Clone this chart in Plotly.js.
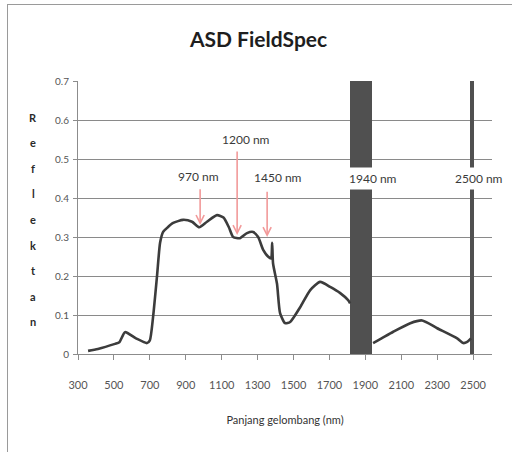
<!DOCTYPE html>
<html>
<head>
<meta charset="utf-8">
<script src="https://cdn.plot.ly/plotly-3.0.1.min.js"></script>
<style>
  html, body { margin: 0; padding: 0; background: #fff; }
  #wrap { position: relative; width: 512px; height: 452px; overflow: hidden; }
  #chart { position: absolute; left: 0; top: 0; width: 512px; height: 452px; }
  #frame { position: absolute; left: 7px; top: 4px; width: 520px; height: 460px;
           border-left: 1px solid #9a9a9a; border-top: 1px solid #9a9a9a; pointer-events: none; }
</style>
</head>
<body>
<div id="wrap"><div id="chart"></div><div id="frame"></div></div>
<script>
// Spectrum (wavelength nm, reflectance)
const wavelength = [356, 411, 506, 530, 562, 623, 684, 700, 718, 740, 757, 774, 800, 830, 885, 935, 975, 1018, 1074, 1110, 1140, 1164, 1202, 1241, 1275, 1303, 1331, 1358, 1375, 1381, 1386, 1408, 1425, 1453, 1481, 1537, 1593, 1648, 1704, 1760, 1804, 1815,
                    null,
                    1943, 1990, 2055, 2150, 2216, 2300, 2411, 2445, 2467, 2488];
const reflectance = [0.008, 0.013, 0.026, 0.030, 0.056, 0.040, 0.028, 0.035, 0.095, 0.200, 0.285, 0.313, 0.325, 0.336, 0.344, 0.339, 0.325, 0.339, 0.356, 0.350, 0.325, 0.300, 0.297, 0.310, 0.313, 0.300, 0.267, 0.250, 0.245, 0.285, 0.232, 0.180, 0.105, 0.079, 0.082, 0.120, 0.164, 0.185, 0.172, 0.156, 0.138, 0.130,
                    null,
                    0.028, 0.040, 0.057, 0.079, 0.086, 0.066, 0.040, 0.028, 0.031, 0.040];

// Noisy water-absorption bands (drawn as dark filled bands)
const bandCenter = [1876, 2495];
const bandWidth  = [123, 20];
const bandTop    = [0.7, 0.7];

// Arrow annotations
const arrowLabels = ["970 nm", "1200 nm", "1450 nm"];
const arrowX      = [980, 1186, 1353];
const arrowTipY   = [0.331, 0.305, 0.300];
const arrowTailY  = [0.426, 0.523, 0.420];
const labelX      = [970, 1235, 1415];
const labelY      = [0.455, 0.55, 0.453];

// Band labels
const bandLabels = ["1940 nm", "2500 nm"];
const bandLabelX = [1940, 2535];
const bandLabelY = [0.42, 0.42];

const xTicks = [300, 500, 700, 900, 1100, 1300, 1500, 1700, 1900, 2100, 2300, 2500];
const yTicks = [0, 0.1, 0.2, 0.3, 0.4, 0.5, 0.6, 0.7];
const yTitleLetters = "Reflektan".split("");

const FONT = "Lato, 'Open Sans', sans-serif";

const traces = [
  {
    type: "bar", x: bandCenter, y: bandTop, width: bandWidth,
    marker: { color: "#505050", line: { width: 0 } },
    hoverinfo: "skip", showlegend: false
  },
  {
    type: "scatter", mode: "lines", x: wavelength, y: reflectance,
    line: { color: "#3c3c3c", width: 2.6, shape: "spline", smoothing: 0.6 },
    connectgaps: false, showlegend: false
  }
];

const annotations = [];
arrowLabels.forEach((t, i) => {
  annotations.push({
    x: arrowX[i], y: arrowTipY[i], xref: "x", yref: "y",
    ax: arrowX[i], ay: arrowTailY[i], axref: "x", ayref: "y",
    text: "", showarrow: true, arrowhead: 5, arrowsize: 1, arrowwidth: 1.6,
    arrowcolor: "#f29a9a"
  });
  annotations.push({
    x: labelX[i], y: labelY[i], xref: "x", yref: "y", text: t, showarrow: false,
    font: { family: FONT, size: 12, color: "#3a3a3a" }
  });
});
bandLabels.forEach((t, i) => {
  annotations.push({
    x: bandLabelX[i], y: bandLabelY[i], xref: "x", yref: "y", text: t, showarrow: false,
    bgcolor: "#ffffff", borderpad: 3, yanchor: "bottom",
    font: { family: FONT, size: 12, color: "#3a3a3a" }
  });
});
yTitleLetters.forEach((ch, i) => {
  annotations.push({
    x: 33, y: 117 + i * 25.6, xref: "paper", yref: "paper", text: ch, showarrow: false,
    font: { family: FONT, size: 11, color: "#2a2a2a", weight: "bold" }
  });
});
// convert the letter positions from pixels to paper coords
const L = 78, R = 20, T = 81, B = 98, W = 512, H = 452;
const pw = W - L - R, ph = H - T - B;
annotations.forEach(a => {
  if (a.xref === "paper") {
    a.x = (a.x - L) / pw;
    a.y = (H - B - a.y) / ph;
    a.xanchor = "center"; a.yanchor = "middle";
  }
});

const layout = {
  width: W, height: H,
  margin: { l: L, r: R, t: T, b: B },
  paper_bgcolor: "#ffffff", plot_bgcolor: "#ffffff",
  title: { text: "ASD FieldSpec", x: 0.505, xanchor: "center", y: 0.912, yanchor: "middle",
           font: { family: FONT, size: 21, color: "#1e1e1e", weight: "bold" } },
  bargap: 0,
  xaxis: {
    range: [300, 2605], tickvals: xTicks, ticktext: xTicks.map(String),
    showgrid: false, zeroline: false, showline: true, linecolor: "#8c8c8c", linewidth: 1,
    ticks: "outside", ticklen: 5, tickcolor: "#8c8c8c", ticklabelstandoff: 16,
    tickfont: { family: FONT, size: 11, color: "#555" },
    title: { text: "Panjang gelombang (nm)", standoff: 26, font: { family: FONT, size: 11, color: "#333" } }
  },
  yaxis: {
    range: [0, 0.7], tickvals: yTicks, ticktext: yTicks.map(String),
    showgrid: true, gridcolor: "#8a8a8a", gridwidth: 1,
    zeroline: false, showline: true, linecolor: "#8c8c8c", linewidth: 1,
    ticks: "outside", ticklen: 4, tickcolor: "#8c8c8c", ticklabelstandoff: 2,
    tickfont: { family: FONT, size: 10, color: "#555" }
  },
  annotations: annotations,
  showlegend: false
};

Plotly.newPlot("chart", traces, layout, { staticPlot: true, displayModeBar: false });
</script>
</body>
</html>
